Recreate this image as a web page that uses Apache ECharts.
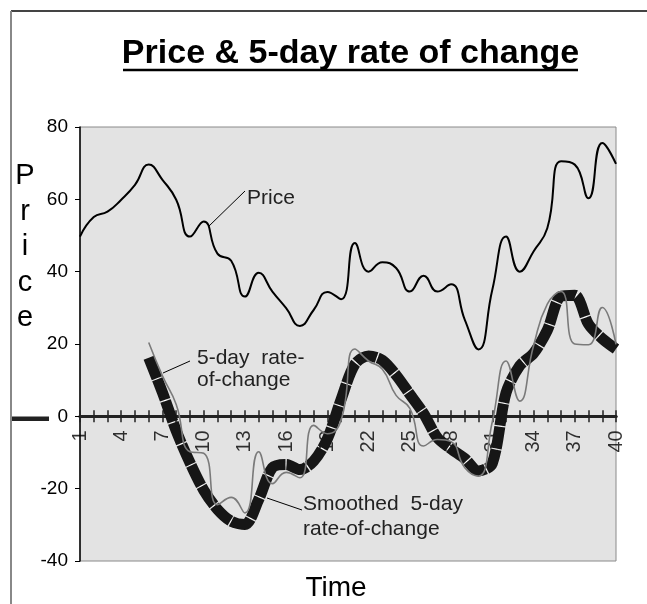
<!DOCTYPE html>
<html><head><meta charset="utf-8">
<script src="https://cdn.jsdelivr.net/npm/echarts@6/dist/echarts.min.js"></script>
<style>html,body{margin:0;padding:0;background:#fff}#c{width:647px;height:604px}</style>
</head><body><div id="c"></div>
<script>
const categories = ['1','2','3','4','5','6','7','8','9','10','11','12','13','14','15','16','17','18','19','20',
  '21','22','23','24','25','26','27','28','29','30','31','32','33','34','35','36','37','38','39','40'];
const price = [49.7, 55.1, 56.6, 59.9, 64.0, 69.6, 65.4, 59.9, 49.7, 53.9,
  45.0, 43.0, 33.1, 39.7, 34.5, 29.9, 25.0, 29.4, 34.4, 32.4,
  47.9, 40.0, 42.6, 41.0, 34.5, 38.9, 34.5, 36.5, 26.7, 18.5,
  35.0, 49.7, 40.0, 45.6, 52.0, 70.5, 69.6, 60.3, 75.6, 69.8];
const roc5 = [null, null, null, null, null, 20.4, 11.2, 3.3, -9.8, -10.2,
  -24.4, -22.4, -26.7, -9.8, -18.6, -15.5, -17.0, -2.5, -4.8, -1.0,
  18.6, 15.3, 13.0, 5.8, 2.2, -8.2, -6.4, -7.0, -14.2, -16.5,
  -1.5, 15.3, 4.2, 19.5, 31.0, 34.5, 20.0, 19.8, 30.1, 19.9];
const smoothedRoc = [null, null, null, null, null, 16.2, 6.6, -4.0, -12.8, -20.4,
  -25.7, -29.0, -29.9, -23.0, -14.2, -13.3, -14.7, -12.4, -6.2, 4.7,
  14.4, 16.7, 15.5, 11.4, 6.1, 0.8, -5.9, -9.0, -11.7, -15.1,
  -13.0, 6.5, 14.0, 17.4, 23.8, 33.2, 33.5, 25.5, 21.5, 18.6];
const xTickLabels = ['1','4','7','10','13','16','19','22','25','28','31','34','37','40'];
const yMin = -40, yMax = 80, yStep = 20;
const nameLetters = ['P','r','i','c','e'];

const FF = "'Liberation Sans', Arial, sans-serif";
const chart = echarts.init(document.getElementById('c'), null, {renderer: 'canvas'});

const graphics = [
  {type:'line', shape:{x1:11,y1:11,x2:647,y2:11}, style:{stroke:'#444',lineWidth:2}},
  {type:'line', shape:{x1:11,y1:11,x2:11,y2:604}, style:{stroke:'#888',lineWidth:2}},
  {type:'rect', shape:{x:12,y:416.5,width:37,height:4.5}, style:{fill:'#222'}},
  {type:'text', style:{text:'Price & 5-day rate of change', x:350.5, y:54, align:'center', verticalAlign:'middle',
    font:"bold 34px " + FF, fill:'#000'}},
  {type:'line', shape:{x1:123,y1:70,x2:578,y2:70}, style:{stroke:'#000',lineWidth:2.5}},
  {type:'text', style:{text:'Time', x:336, y:588, align:'center', verticalAlign:'middle', font:"28px " + FF, fill:'#000'}},
  // annotations
  {type:'line', shape:{x1:208,y1:227,x2:245,y2:191}, style:{stroke:'#000',lineWidth:1}},
  {type:'text', style:{text:'Price', x:247, y:198, align:'left', verticalAlign:'middle', font:"21px " + FF, fill:'#222'}},
  {type:'line', shape:{x1:163,y1:373,x2:190,y2:361}, style:{stroke:'#000',lineWidth:1}},
  {type:'text', style:{text:'5-day  rate-', x:197, y:358, align:'left', verticalAlign:'middle', font:"21px " + FF, fill:'#222'}},
  {type:'text', style:{text:'of-change', x:197, y:380, align:'left', verticalAlign:'middle', font:"21px " + FF, fill:'#222'}},
  {type:'line', shape:{x1:267,y1:498,x2:302,y2:510}, style:{stroke:'#000',lineWidth:1}},
  {type:'text', style:{text:'Smoothed  5-day', x:303, y:504, align:'left', verticalAlign:'middle', font:"21px " + FF, fill:'#222'}},
  {type:'text', style:{text:'rate-of-change', x:303, y:529, align:'left', verticalAlign:'middle', font:"21px " + FF, fill:'#222'}}
];
nameLetters.forEach((ch, k) => {
  graphics.push({type:'text', style:{text:ch, x:25, y:176 + k*35.5, align:'center', verticalAlign:'middle', font:"29px " + FF, fill:'#000'}});
});

const gridBox = {left:80, right:31, top:127, bottom:43};
const option = {
  animation: false,
  backgroundColor: '#fff',
  grid: [
    Object.assign({show:true, backgroundColor:'#e3e3e3', borderColor:'#8a8a8a', borderWidth:1, containLabel:false}, gridBox),
    Object.assign({show:false, containLabel:false}, gridBox)
  ],
  xAxis: [
    {type:'category', gridIndex:0, data:categories, boundaryGap:false, position:'bottom',
     axisLine:{onZero:true, lineStyle:{color:'#222', width:3}},
     axisTick:{show:true, interval:0, length:6, lineStyle:{color:'#222', width:1.5}},
     axisLabel:{show:false},
     splitLine:{show:false}},
    {type:'category', gridIndex:1, data:categories, boundaryGap:false, position:'bottom',
     axisLine:{onZero:true, show:true, lineStyle:{color:'#222', width:3}},
     axisTick:{show:true, inside:true, interval:0, length:6, lineStyle:{color:'#222', width:1.5}},
     axisLabel:{show:false}, splitLine:{show:false}}
  ],
  yAxis: [
    {type:'value', gridIndex:0, min:yMin, max:yMax, interval:yStep,
     axisLine:{show:true, lineStyle:{color:'#000', width:1.5}},
     axisTick:{show:true, length:5, lineStyle:{color:'#000', width:1}},
     axisLabel:{fontSize:19, color:'#000', margin:12, fontFamily:FF},
     splitLine:{show:false}},
    {type:'value', gridIndex:1, min:yMin, max:yMax, interval:yStep,
     axisLine:{show:false}, axisTick:{show:false}, axisLabel:{show:false}, splitLine:{show:false}}
  ],
  series: [
    {name:'x tick labels', type:'scatter', silent:true, symbolSize:0, z:1,
     data: xTickLabels.map(c => [c, 0]),
     label:{show:true, position:'bottom', distance:14, rotate:90, align:'right', verticalAlign:'middle',
       formatter: p => p.value[0], fontSize:20, color:'#000', fontFamily:FF}},
    {name:'Smoothed base', type:'line', data:smoothedRoc, smooth:0.3, symbol:'none', silent:true,
     lineStyle:{color:'#ffffff', width:3.5}, z:2},
    {name:'Smoothed 5-day rate-of-change', type:'line', data:smoothedRoc, smooth:0.3, symbol:'none',
     lineStyle:{color:'#161616', width:11, type:[22,1.2], cap:'butt', join:'miter'}, z:3},
    {name:'5-day rate-of-change', type:'line', data:roc5, smooth:true, symbol:'none',
     lineStyle:{color:'#7a7a7a', width:1.6}, z:4},
    {name:'Price', type:'line', data:price, smooth:true, symbol:'none',
     lineStyle:{color:'#000', width:2}, z:5}
  ],
  graphic: graphics
};
chart.setOption(option);
</script></body></html>
